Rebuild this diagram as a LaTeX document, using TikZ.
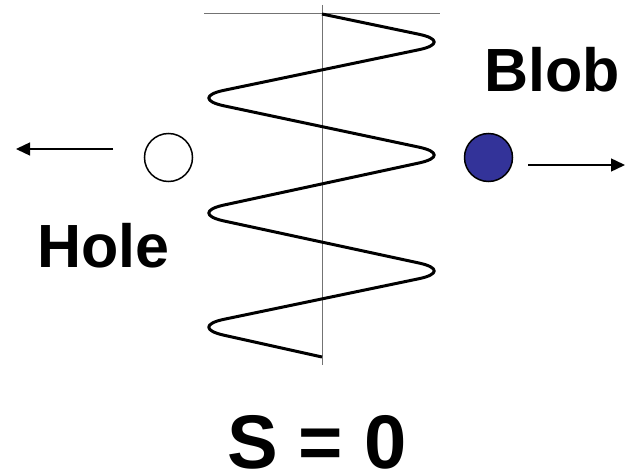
\documentclass[tikz,border=0pt]{standalone}
\usepackage{fontspec}
\setmainfont{Liberation Sans}
\usetikzlibrary{arrows.meta}
\definecolor{blobblue}{HTML}{333399}
\begin{document}
\begin{tikzpicture}[x=1pt,y=-1pt,
  axis/.style={draw=gray!90!black,line width=1pt},
  wave/.style={draw=black,line width=3pt,rounded corners=38pt,line join=round},
  particle/.style={circle,draw=black,line width=1.5pt,minimum size=48pt,inner sep=0pt},
  arr/.style={draw=black,line width=1.4pt,-{Triangle[length=14pt,width=13pt]}},
  lbl/.style={inner sep=0pt,anchor=base west,font=\bfseries\fontsize{61}{61}\selectfont}]
\useasboundingbox (0,0) rectangle (629,476);
% axes
\draw[axis] (204,14) -- (440,14);
\draw[axis] (322,5) -- (322,365);
% wave
\draw[wave] (322,14) -- (456,42) -- (187,98) -- (456,155) -- (187,213) -- (456,271) -- (187,327) -- (322,357);
% particles
\node[particle,fill=white] (hole) at (168.5,157.5) {};
\node[particle,fill=blobblue] (blob) at (488.5,157.5) {};
% arrows
\coordinate (lstart) at (113,149);
\coordinate (lend) at (16,149);
\coordinate (rstart) at (528,165);
\coordinate (rend) at (625,165);
\draw[arr] (lstart) -- (lend);
\draw[arr] (rstart) -- (rend);
% labels
\node[lbl] (bloblbl) at (484,92) {Blob};
\node[lbl] (holelbl) at (37,267) {Hole};
\node[lbl,font=\bfseries\fontsize{76}{76}\selectfont] (slbl) at (227,468) {S = 0};
\end{tikzpicture}
\end{document}
